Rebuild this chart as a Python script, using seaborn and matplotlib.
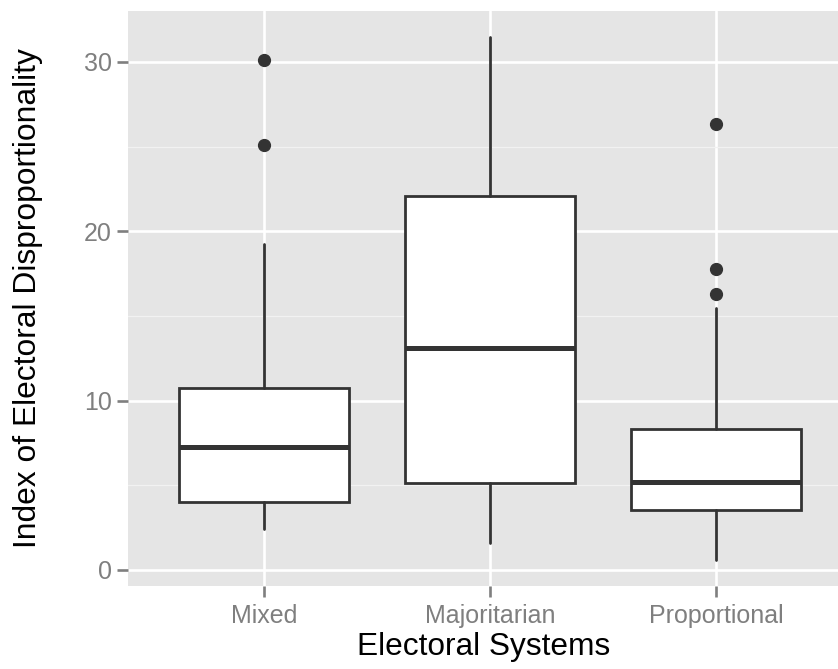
import matplotlib
matplotlib.use("Agg")
import matplotlib.pyplot as plt
import seaborn as sns

# ---- data ----
categories = ["Mixed", "Majoritarian", "Proportional"]
whisker_low = [2.40, 1.60, 0.60]
q1 = [4.00, 5.14, 3.56]
median = [7.28, 13.10, 5.18]
q3 = [10.73, 22.05, 8.35]
whisker_high = [19.24, 31.44, 15.49]
outliers = [[25.10, 30.12], [], [16.30, 17.76, 26.34]]
y_ticks = [0, 10, 20, 30]
y_minor = [5, 15, 25]
x_title = "Electoral Systems"
y_title = "Index of Electoral Disproportionality"

sns.set_theme(style="darkgrid")
plt.rcParams["font.family"] = ["Liberation Sans", "DejaVu Sans"]

fig = plt.figure(figsize=(8.38, 6.69), dpi=100)
W, H = 838, 669
left_px, top_px, bottom_px = 128.3, 11.0, 585.7
ax = fig.add_axes([left_px / W, 1 - bottom_px / H, (W - left_px) / W, (bottom_px - top_px) / H])
ax.set_facecolor("#E5E5E5")

stats = []
for i, c in enumerate(categories):
    stats.append(dict(label=c, whislo=whisker_low[i], q1=q1[i], med=median[i],
                      q3=q3[i], whishi=whisker_high[i], fliers=outliers[i]))

line_c = "#333333"
ax.bxp(stats, positions=list(range(len(categories))), widths=0.75, patch_artist=True,
       showcaps=False,
       boxprops=dict(facecolor="white", edgecolor=line_c, linewidth=2.0),
       whiskerprops=dict(color=line_c, linewidth=2.0),
       medianprops=dict(color=line_c, linewidth=3.6, solid_capstyle="butt"),
       flierprops=dict(marker="o", markerfacecolor=line_c, markeredgecolor=line_c,
                       markersize=8.5, linestyle="none"),
       zorder=3)

spacing = 226.0
ax.set_xlim(-0.6, -0.6 + (W - left_px) / spacing)
ax.set_ylim(-0.93, 33.0)

ax.set_xticks(list(range(len(categories))))
ax.set_xticklabels(categories)
ax.set_yticks(y_ticks)
ax.set_yticks(y_minor, minor=True)
ax.set_axisbelow(True)
ax.grid(which="major", color="white", linewidth=1.9)
ax.grid(which="minor", axis="y", color="#F2F2F2", linewidth=0.9)
ax.grid(which="minor", axis="x", visible=False)
for s in ax.spines.values():
    s.set_visible(False)

ax.tick_params(which="major", length=8, width=1.9, color="#7F7F7F",
               labelcolor="#7F7F7F", labelsize=18, direction="out",
               bottom=True, left=True)
ax.tick_params(axis="x", which="major", pad=5)
ax.tick_params(axis="y", which="major", pad=4)
ax.tick_params(which="minor", length=0)

ax.set_xlabel(x_title, fontsize=22.8, color="black", labelpad=3)
ax.set_ylabel(y_title, fontsize=22.9, color="black", labelpad=29)

fig.savefig("out.png", dpi=100)
